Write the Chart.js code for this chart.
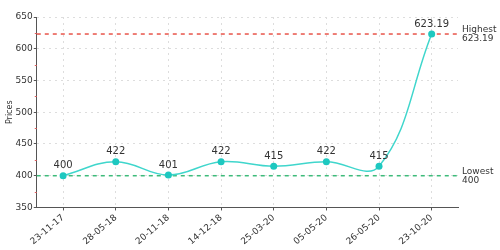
<!DOCTYPE html>
<html>
<head>
<meta charset="utf-8">
<script src="https://cdn.jsdelivr.net/npm/chart.js@4"></script>
<style>
  html, body { margin: 0; padding: 0; background: #fff; }
  #wrap { width: 500px; height: 250px; }
</style>
</head>
<body>
<div id="wrap"><canvas id="priceChart"></canvas></div>
<script>
// dates and prices
var dates = ['23-11-17', '28-05-18', '20-11-18', '14-12-18', '25-03-20', '05-05-20', '26-05-20', '23-10-20'];
var prices = [400, 422, 401, 422, 415, 422, 415, 623.19];
var pointLabels = ['400', '422', '401', '422', '415', '422', '415', '623.19'];
var highest = 623.19;
var lowest = 400;
var yTicks = [350, 400, 450, 500, 550, 600, 650];
var yMinorTicks = [375, 425, 475, 525, 575, 625];

var fontName = "'DejaVu Sans', Verdana, sans-serif";

// draws the value above each point, the minor ticks and the highest / lowest lines
var extrasPlugin = {
    id: 'extras',
    beforeDatasetsDraw: function(chart) {
        var ctx = chart.ctx;
        var area = chart.chartArea;
        var y = chart.scales.y;
        var lines = [
            { value: highest, color: '#e8554a', text: ['Highest', String(highest)] },
            { value: lowest, color: '#3dbb7a', text: ['Lowest', String(lowest)] }
        ];
        ctx.save();
        // little red minor ticks on the y axis
        ctx.strokeStyle = '#e06060';
        ctx.lineWidth = 1;
        yMinorTicks.forEach(function(v) {
            var py = Math.round(y.getPixelForValue(v)) + 0.5;
            ctx.beginPath();
            ctx.moveTo(area.left - 2, py);
            ctx.lineTo(area.left, py);
            ctx.stroke();
        });
        lines.forEach(function(l) {
            var py = y.getPixelForValue(l.value);
            ctx.strokeStyle = l.color;
            ctx.lineWidth = 1.5;
            ctx.setLineDash([4, 4]);
            ctx.beginPath();
            ctx.moveTo(area.left, py);
            ctx.lineTo(area.right, py);
            ctx.stroke();
            ctx.setLineDash([]);
            ctx.fillStyle = '#333';
            ctx.font = '9px ' + fontName;
            ctx.textAlign = 'left';
            ctx.textBaseline = 'middle';
            ctx.fillText(l.text[0], area.right + 4, py - 4);
            ctx.fillText(l.text[1], area.right + 4, py + 5);
        });
        ctx.restore();
    },
    afterDatasetsDraw: function(chart) {
        var ctx = chart.ctx;
        var meta = chart.getDatasetMeta(0);
        ctx.save();
        ctx.fillStyle = '#333';
        ctx.font = '10px ' + fontName;
        ctx.textAlign = 'center';
        ctx.textBaseline = 'bottom';
        meta.data.forEach(function(pt, i) {
            ctx.fillText(pointLabels[i], pt.x, pt.y - 5);
        });
        ctx.restore();
    }
};

var ctx = document.getElementById('priceChart').getContext('2d');
var chart = new Chart(ctx, {
    type: 'line',
    data: {
        labels: dates,
        datasets: [{
            label: 'Prices',
            data: prices,
            borderColor: '#3fd6cc',
            backgroundColor: '#1ec8c0',
            borderWidth: 1.5,
            pointRadius: 3.5,
            pointBorderWidth: 0,
            tension: 0.4,
            fill: false
        }]
    },
    options: {
        responsive: true,
        maintainAspectRatio: false,
        animation: false,
        layout: {
            padding: { left: 0, right: 42, top: 17, bottom: 1 }
        },
        plugins: {
            legend: { display: false },
            tooltip: { enabled: false }
        },
        scales: {
            x: {
                offset: true,
                grid: {
                    offset: false,
                    color: '#dddddd',
                    tickColor: '#555',
                    tickLength: 3,
                    drawOnChartArea: true
                },
                border: { color: '#555', width: 1, dash: [2, 4] },
                ticks: {
                    minRotation: 40,
                    maxRotation: 40,
                    padding: 2,
                    color: '#333',
                    font: { family: fontName, size: 9 }
                }
            },
            y: {
                min: 350,
                max: 650,
                afterBuildTicks: function(axis) {
                    axis.ticks = yTicks.map(function(v) { return { value: v }; });
                },
                grid: {
                    color: '#dddddd',
                    tickColor: '#555',
                    tickLength: 3
                },
                border: { color: '#555', width: 1, dash: [2, 4] },
                title: {
                    display: true,
                    text: 'Prices',
                    color: '#333',
                    padding: { top: 5, bottom: 0 },
                    font: { family: fontName, size: 8 }
                },
                ticks: {
                    padding: 1,
                    color: '#333',
                    font: { family: fontName, size: 9 }
                }
            }
        }
    },
    plugins: [extrasPlugin]
});
</script>
</body>
</html>
